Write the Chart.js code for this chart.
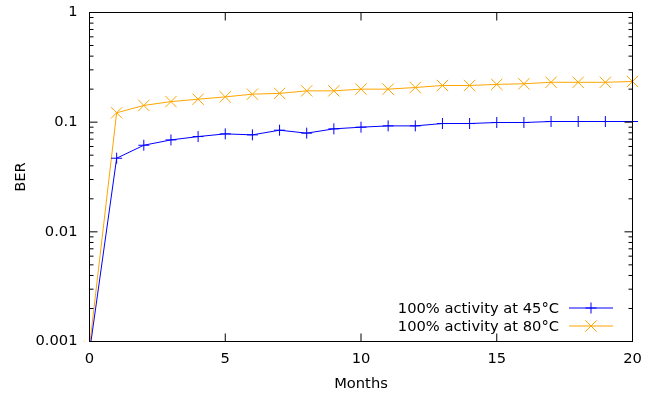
<!DOCTYPE html>
<html>
<head>
<meta charset="utf-8">
<script src="https://cdn.jsdelivr.net/npm/chart.js@4/dist/chart.umd.min.js"></script>
<style>
  body { margin: 0; background: #fff; }
  #wrap { width: 656px; height: 396px; }
</style>
</head>
<body>
<div id="wrap"><canvas id="chart" width="656" height="396"></canvas></div>
<script>
// data
const months = [0, 1, 2, 3, 4, 5, 6, 7, 8, 9, 10, 11, 12, 13, 14, 15, 16, 17, 18, 19, 20];
const ber45 = [0.0008, 0.0469, 0.0616, 0.0689, 0.0739, 0.0782, 0.0766, 0.0845, 0.0794, 0.0869, 0.0900,
  0.0925, 0.0925, 0.0972, 0.0972, 0.0993, 0.0993, 0.1014, 0.1014, 0.1014, 0.1014];
const ber80 = [0.0009, 0.1218, 0.142, 0.154, 0.162, 0.170, 0.180, 0.183, 0.193, 0.193, 0.200,
  0.200, 0.207, 0.216, 0.216, 0.221, 0.224, 0.231, 0.231, 0.231, 0.235];
const seriesLabels = ["100% activity at 45°C", "100% activity at 80°C"];
const yMajorTicks = [0.001, 0.01, 0.1, 1];
const yTickLabels = ["0.001", "0.01", "0.1", "1"];
const xMajorTicks = [0, 5, 10, 15, 20];

const FONT = { family: "'DejaVu Sans', sans-serif", size: 14.7 };
const Y_MIN = 0.001, Y_MAX = 1;

// first point sits below the axis range, gnuplot drops its marker
const hideBelowMin = (c) => (c.raw < Y_MIN ? 0 : undefined);

// gnuplot-like frame with inward tics on all four sides
const framePlugin = {
  id: "frame",
  afterDatasetsDraw(chart) {
    const { ctx, chartArea: a, scales } = chart;
    ctx.save();
    ctx.strokeStyle = "#000";
    ctx.lineWidth = 1;
    ctx.beginPath();
    // y tics, major + minor
    yMajorTicks.forEach((d) => {
      for (let m = 1; m <= 9; m++) {
        const v = d * m;
        if (v > Y_MAX) break;
        const y = scales.y.getPixelForValue(v);
        const len = m === 1 ? 8 : 4;
        ctx.moveTo(a.left, y); ctx.lineTo(a.left + len, y);
        ctx.moveTo(a.right, y); ctx.lineTo(a.right - len, y);
      }
    });
    xMajorTicks.forEach((v) => {
      const x = scales.x.getPixelForValue(v);
      ctx.moveTo(x, a.bottom); ctx.lineTo(x, a.bottom - 8);
      ctx.moveTo(x, a.top); ctx.lineTo(x, a.top + 8);
    });
    ctx.stroke();
    ctx.strokeRect(a.left, a.top, a.right - a.left, a.bottom - a.top);
    ctx.restore();
  },
  afterDraw(chart) {
    // key, bottom right: text then sample
    const { ctx } = chart;
    const rows = [308, 326];
    ctx.save();
    ctx.font = FONT.size + "px " + FONT.family;
    ctx.textAlign = "right";
    ctx.textBaseline = "middle";
    chart.data.datasets.forEach((ds, i) => {
      const y = rows[i];
      ctx.fillStyle = "#000";
      ctx.fillText(ds.label, 559, y + 1);
      ctx.strokeStyle = ds.borderColor;
      ctx.lineWidth = 1;
      ctx.beginPath();
      ctx.moveTo(569, y); ctx.lineTo(613, y);
      ctx.stroke();
      Chart.helpers.drawPoint(ctx, { pointStyle: ds.pointStyle, radius: ds.pointRadius, rotation: 0, borderWidth: 1 }, 591, y);
    });
    ctx.restore();
  },
};

new Chart(document.getElementById("chart"), {
  type: "line",
  data: {
    datasets: [
      {
        label: seriesLabels[0],
        data: months.map((m, i) => ({ x: m, y: ber45[i] })),
        borderColor: "#0000ff",
        backgroundColor: "#0000ff",
        borderWidth: 1,
        pointStyle: "cross",
        pointRadius: 5.5,
        pointBorderWidth: 1,
        clip: { left: 10, top: 10, right: 10, bottom: 0 },
      },
      {
        label: seriesLabels[1],
        data: months.map((m, i) => ({ x: m, y: ber80[i] })),
        borderColor: "#ffa500",
        backgroundColor: "#ffa500",
        borderWidth: 1,
        pointStyle: "crossRot",
        pointRadius: 8,
        pointBorderWidth: 1,
        clip: { left: 10, top: 10, right: 10, bottom: 0 },
      },
    ],
  },
  options: {
    responsive: false,
    animation: false,
    events: [],
    layout: { padding: { left: 0, top: 12.5, right: 23.5, bottom: 0 } },
    elements: {
      line: { tension: 0 },
      point: { radius: hideBelowMin },
    },
    plugins: { legend: { display: false }, tooltip: { enabled: false } },
    scales: {
      x: {
        type: "linear",
        min: 0,
        max: 20,
        afterBuildTicks: (s) => { s.ticks = xMajorTicks.map((v) => ({ value: v })); },
        afterFit: (s) => { s.height = 54.5; s.paddingLeft = 0; s.paddingRight = 0; },
        grid: { display: false, drawTicks: false },
        border: { display: false },
        ticks: { color: "#000", font: FONT, padding: 9, maxRotation: 0, autoSkip: false },
        title: { display: true, text: "Months", color: "#000", font: FONT, padding: { top: 3, bottom: 3 } },
      },
      y: {
        type: "logarithmic",
        min: Y_MIN,
        max: Y_MAX,
        afterBuildTicks: (s) => { s.ticks = yMajorTicks.map((v) => ({ value: v })); },
        afterFit: (s) => { s.width = 89.5; s.paddingTop = 0; s.paddingBottom = 0; },
        grid: { display: false, drawTicks: false },
        border: { display: false },
        ticks: {
          color: "#000",
          font: FONT,
          padding: 12,
          autoSkip: false,
          callback: (v) => yTickLabels[yMajorTicks.indexOf(v)] ?? "",
        },
        title: { display: true, text: "BER", color: "#000", font: FONT, padding: { top: 12, bottom: 12 } },
      },
    },
  },
  plugins: [framePlugin],
});
</script>
</body>
</html>
